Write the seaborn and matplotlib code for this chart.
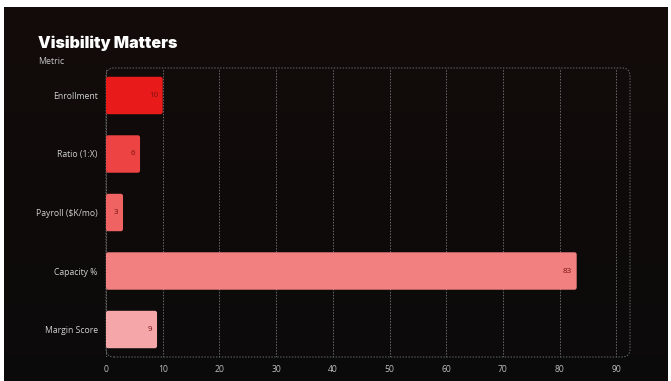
import numpy as np
import pandas as pd
import seaborn as sns
import matplotlib.pyplot as plt
from matplotlib.patches import FancyBboxPatch

# Chart data
metrics = ['Enrollment', 'Ratio (1:X)', 'Payroll ($K/mo)', 'Capacity %', 'Margin Score']
values = [10, 6, 3, 83, 9]
bar_colors = ['#e81a1a', '#ee4343', '#f06363', '#f28080', '#f5a6a9']
x_ticks = [0, 10, 20, 30, 40, 50, 60, 70, 80, 90]

df = pd.DataFrame({'metric': metrics, 'value': values})

sns.set_theme(style='dark')
plt.rcParams['font.family'] = ['Open Sans', 'DejaVu Sans']

W, H = 671, 381
fig = plt.figure(figsize=(W / 100, H / 100), dpi=100, facecolor='white')

# dark panel with a faint red tint at the top
bg = fig.add_axes([4 / W, 0, (668 - 4) / W, 1 - 7 / H])
top = np.array([0.075, 0.045, 0.042])
bot = np.array([0.045, 0.040, 0.040])
t = np.linspace(0, 1, 200)[:, None, None]
grad = top * (1 - t) + bot * t
bg.imshow(np.repeat(grad, 2, axis=1), aspect='auto', extent=[0, 1, 0, 1])
bg.set_axis_off()

ax = fig.add_axes([106 / W, 1 - 357 / H, (630 - 106) / W, (357 - 68) / H])
ax.set_facecolor('none')

sns.barplot(data=df, x='value', y='metric', hue='metric', palette=bar_colors,
            orient='h', width=0.64, saturation=1, legend=False, ax=ax)

ax.set_xlim(0, 92.4)
ax.set_ylim(4.47, -0.47)

# swap plain bars for rounded ones
px_x = (630 - 106) / 92.4
px_y = (357 - 68) / 4.94
for p in list(ax.patches):
    x0, y0 = p.get_x(), p.get_y()
    w, h = p.get_width(), p.get_height()
    fc = p.get_facecolor()
    p.remove()
    rb = FancyBboxPatch((x0, y0), w, h,
                        boxstyle='round,pad=0,rounding_size=%f' % (2.2 / px_x),
                        mutation_aspect=px_x / px_y,
                        facecolor=fc, edgecolor='none', zorder=3)
    ax.add_patch(rb)

for i, v in enumerate(values):
    ax.text(v - 4.5 / px_x, i, str(v), ha='right', va='center',
            fontsize=5.8, color='#7a1212', zorder=4)

ax.set_xticks(x_ticks)
ax.grid(axis='x', color='#6a6a6a', linestyle=(0, (1.5, 1.5)), linewidth=0.7)
ax.grid(axis='y', visible=False)
ax.set_axisbelow(True)
for s in ax.spines.values():
    s.set_visible(False)

frame = FancyBboxPatch((0, 0), 1, 1, transform=ax.transAxes,
                       boxstyle='round,pad=0,rounding_size=0.015',
                       mutation_aspect=(630 - 106) / (357 - 68),
                       facecolor='none', edgecolor='#6a6a6a',
                       linestyle=(0, (1.5, 1.5)), linewidth=0.7, clip_on=False, zorder=1)
ax.add_patch(frame)

ax.tick_params(axis='x', length=0, pad=6, labelsize=6.2, labelcolor='#bdbdbd')
ax.tick_params(axis='y', length=3, width=0.6, color='#555555', pad=3,
               labelsize=6.2, labelcolor='#d0d0d0')
ax.set_xlabel('')
ax.set_ylabel('')

fig.text(38 / W, 1 - 43 / H, 'Visibility Matters', fontsize=11.5, fontweight='black',
         family=['Inter', 'Lato', 'DejaVu Sans'], color='white', ha='left', va='center')
fig.text(38 / W, 1 - 62 / H, 'Metric', fontsize=6.3, color='#c8c8c8', ha='left', va='center')

fig.savefig('out.png', dpi=100, facecolor='white')
